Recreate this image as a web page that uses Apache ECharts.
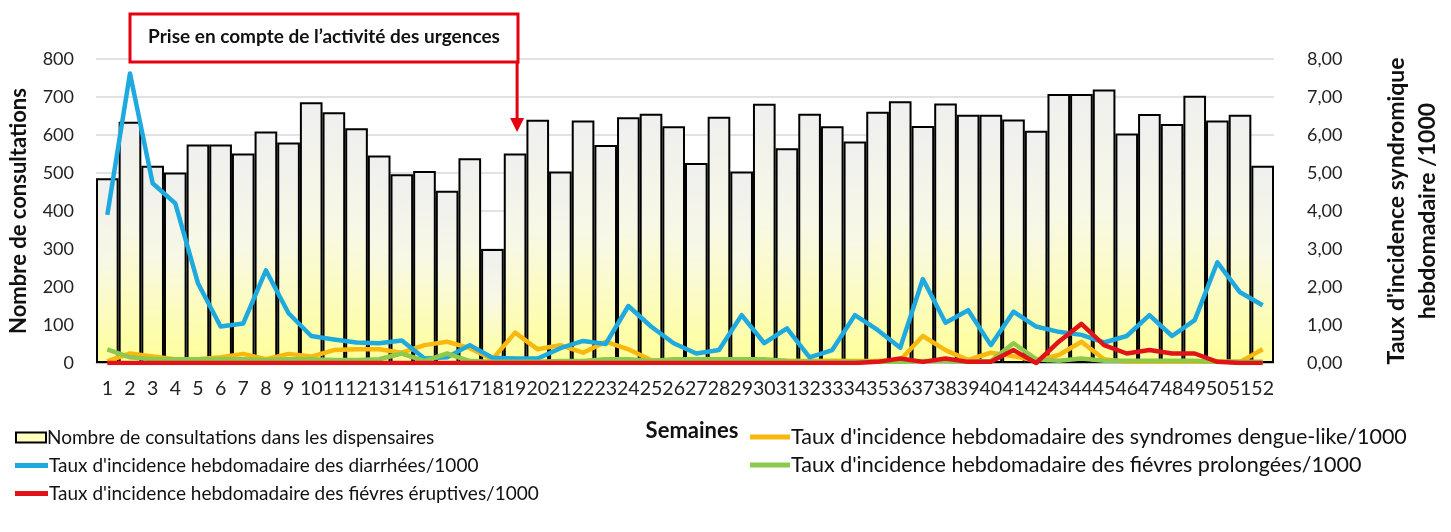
<!DOCTYPE html>
<html>
<head>
<meta charset="utf-8">
<script src="https://cdn.jsdelivr.net/npm/echarts@6/dist/echarts.min.js"></script>
<style>
html,body{margin:0;padding:0;background:#fff;}
#chart{width:1451px;height:532px;}
</style>
</head>
<body>
<div id="chart"></div>
<script>
const weeks = ['1','2','3','4','5','6','7','8','9','10','11','12','13','14','15','16','17','18','19','20','21','22','23','24','25','26','27','28','29','30','31','32','33','34','35','36','37','38','39','40','41','42','43','44','45','46','47','48','49','50','51','52'];
const consultations = [486,635,519,501,575,575,551,609,580,686,660,618,546,497,505,453,539,300,551,640,504,638,574,647,656,623,526,648,504,682,565,656,623,583,661,689,624,683,653,653,641,611,708,708,720,604,655,629,703,638,653,519];
const diarrhees = [3.90,7.62,4.73,4.20,2.10,0.96,1.04,2.44,1.31,0.71,0.62,0.54,0.52,0.59,0.12,0.15,0.47,0.14,0.12,0.12,0.39,0.58,0.50,1.50,0.96,0.52,0.25,0.34,1.26,0.52,0.91,0.15,0.34,1.26,0.87,0.40,2.21,1.06,1.39,0.47,1.35,0.96,0.82,0.74,0.54,0.71,1.26,0.71,1.13,2.65,1.86,1.52];
const dengue = [0.05,0.25,0.17,0.10,0.10,0.15,0.24,0.10,0.24,0.17,0.34,0.36,0.36,0.27,0.47,0.56,0.39,0.10,0.80,0.36,0.47,0.27,0.56,0.36,0.08,0.05,0.06,0.08,0.08,0.08,0.06,0.05,0.06,0.05,0.05,0.08,0.71,0.34,0.08,0.27,0.18,0.06,0.21,0.56,0.10,0.03,0.03,0.03,0.03,0.03,0.03,0.36];
const prolongees = [0.36,0.15,0.10,0.10,0.10,0.10,0.10,0.08,0.10,0.10,0.08,0.08,0.10,0.25,0.05,0.25,0.05,0.03,0.03,0.03,0.05,0.05,0.10,0.10,0.05,0.10,0.10,0.10,0.10,0.10,0.05,0.03,0.03,0.03,0.03,0.03,0.05,0.05,0.03,0.05,0.52,0.10,0.06,0.12,0.06,0.06,0.06,0.06,0.06,0.03,0.03,0.03];
const eruptives = [0,0,0,0,0,0,0,0,0,0,0,0,0,0,0,0,0,0,0,0,0,0,0,0,0,0,0,0,0,0,0,0,0,0,0.03,0.12,0.03,0.12,0.03,0.03,0.34,0.00,0.56,1.03,0.47,0.25,0.34,0.25,0.25,0.03,0.00,0.00];
const leftTicks = {min:0, max:800, interval:100};
const rightTicks = {min:0, max:8, interval:1};

const names = {
  bar: 'Nombre de consultations dans les dispensaires',
  dengue: "Taux d'incidence hebdomadaire des syndromes dengue-like/1000",
  diar: "Taux d'incidence hebdomadaire des diarrhées/1000",
  prol: "Taux d'incidence hebdomadaire des fiévres prolongées/1000",
  erup: "Taux d'incidence hebdomadaire des fiévres éruptives/1000"
};
const colors = {dengue:'#F7B90F', diar:'#1EA9DF', prol:'#8CC94E', erup:'#E01418'};
const FONT = 'Lato, "Open Sans", sans-serif';
const chart = echarts.init(document.getElementById('chart'), null, {renderer:'canvas'});

function lineSeries(name, data, color){
  return {name, type:'line', yAxisIndex:1, data, symbol:'none', smooth:false,
    lineStyle:{color, width:4.5, join:'round'}, itemStyle:{color}, z:3};
}
function lineLegend(name, color, left, top, w, fs){
  return {left, top, padding:0, icon:'rect', itemWidth:w, itemHeight:5,
    textStyle:{fontFamily:FONT, fontSize:fs, color:'#111', padding:[0,0,0,-4]},
    data:[{name, itemStyle:{color}}]};
}

const option = {
  animation:false,
  textStyle:{fontFamily:FONT},
  grid:{left:94, right:170, top:59, bottom:169},
  legend:[
    {left:15, top:428, padding:0, icon:'rect', itemWidth:30, itemHeight:10,
     textStyle:{fontFamily:FONT, fontSize:19, color:'#111', padding:[0,0,0,-4]},
     data:[{name:names.bar, itemStyle:{color:'#FFFFC0', borderColor:'#000', borderWidth:2}}]},
    lineLegend(names.diar, colors.diar, 15, 456, 33, 19),
    lineLegend(names.erup, colors.erup, 15, 484, 33, 19),
    lineLegend(names.dengue, colors.dengue, 750, 426, 40, 21.5),
    lineLegend(names.prol, colors.prol, 750, 454, 40, 21.5)
  ],
  xAxis:{type:'category', data:weeks, name:'Semaines', nameLocation:'middle', nameGap:57,
    nameTextStyle:{fontFamily:FONT, fontWeight:'bold', fontSize:22, color:'#111', padding:[0,0,0,14]},
    axisTick:{show:false}, axisLine:{show:true, lineStyle:{color:'#bfbfbf'}},
    axisLabel:{interval:0, margin:16, fontSize:19.5, color:'#222', fontFamily:FONT}},
  yAxis:[
    {type:'value', min:leftTicks.min, max:leftTicks.max, interval:leftTicks.interval,
     name:'Nombre de consultations', nameLocation:'middle', nameGap:66, nameRotate:90,
     nameTextStyle:{fontFamily:FONT, fontWeight:'bold', fontSize:22, color:'#111'},
     axisLine:{show:false}, axisTick:{show:false},
     axisLabel:{margin:22, fontSize:18, color:'#222', fontFamily:FONT},
     splitLine:{show:true, lineStyle:{color:'#d9d9d9', width:1.5}}},
    {type:'value', min:rightTicks.min, max:rightTicks.max, interval:rightTicks.interval,
     name:"Taux d'incidence syndromique\nhebdomadaire /1000", nameLocation:'middle', nameGap:107, nameRotate:90,
     nameTextStyle:{fontFamily:FONT, fontWeight:'bold', fontSize:23, color:'#111', lineHeight:31, align:'center'},
     axisLine:{show:false}, axisTick:{show:false}, splitLine:{show:false},
     axisLabel:{margin:33, fontSize:18, color:'#222', fontFamily:FONT,
       formatter:v=>v.toFixed(2).replace('.',',')}}
  ],
  series:[
    {name:names.bar, type:'bar', data:consultations, barCategoryGap:'0%', z:2,
     itemStyle:{borderColor:'#000', borderWidth:2,
       color:new echarts.graphic.LinearGradient(0,0,0,1,[
         {offset:0, color:'#EFEFEF'},{offset:0.45, color:'#F8F8E6'},{offset:1, color:'#FFFF99'}])}},
    lineSeries(names.dengue, dengue, colors.dengue),
    lineSeries(names.diar, diarrhees, colors.diar),
    lineSeries(names.prol, prolongees, colors.prol),
    lineSeries(names.erup, eruptives, colors.erup)
  ]
};
chart.setOption(option);

const ax = chart.convertToPixel({xAxisIndex:0}, '19');
chart.setOption({graphic:[
  {type:'rect', shape:{x:130, y:14, width:388, height:48}, style:{fill:'#fff', stroke:'#E3000F', lineWidth:3}, z:10},
  {type:'text', x:324, y:37, style:{text:'Prise en compte de l’activité des urgences', fontFamily:FONT, fontWeight:'bold', fontSize:19, fill:'#111', align:'center', verticalAlign:'middle'}, z:11},
  {type:'line', shape:{x1:ax+2, y1:62, x2:ax+2, y2:120}, style:{stroke:'#E3000F', lineWidth:3}, z:10},
  {type:'polygon', shape:{points:[[ax-5,118],[ax+9,118],[ax+2,132]]}, style:{fill:'#E3000F'}, z:10}
]});
</script>
</body>
</html>
